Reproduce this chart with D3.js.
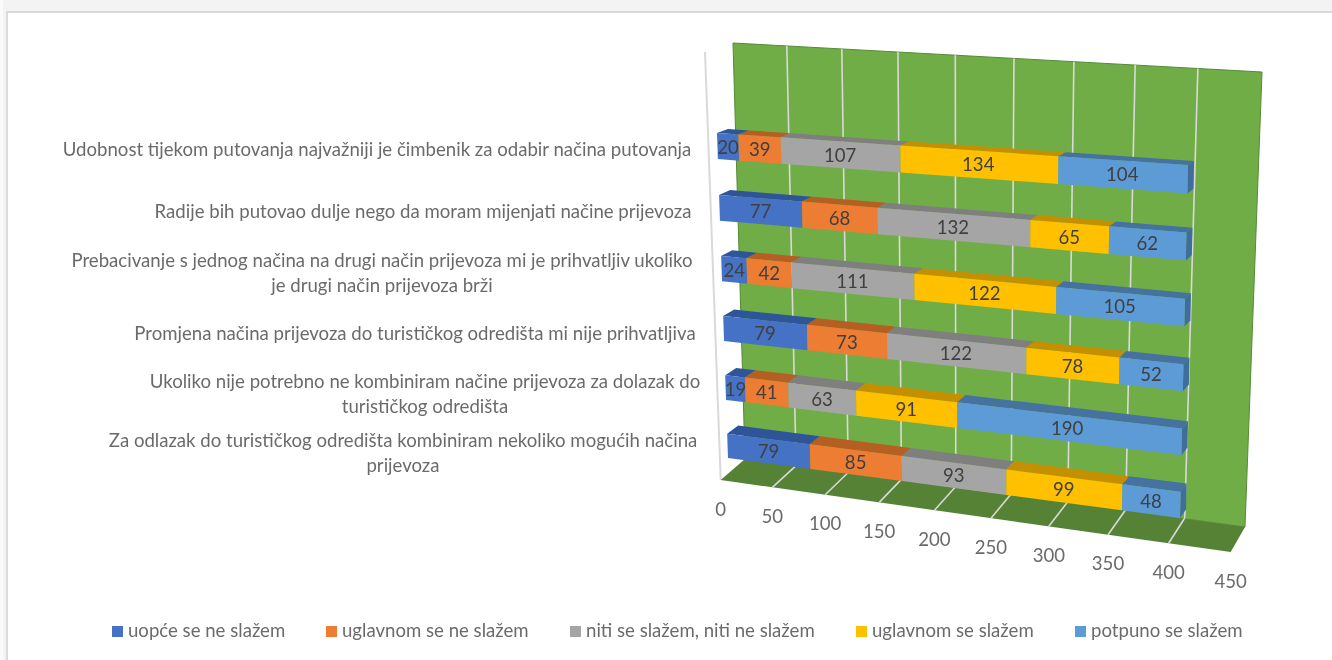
<!DOCTYPE html>
<html><head><meta charset="utf-8">
<script src="https://cdn.jsdelivr.net/npm/d3@7"></script>
<style>html,body{margin:0;padding:0;background:#fff}svg{display:block}text{font-family:Lato,"Noto Sans",sans-serif}</style>
</head><body><svg id="c" width="1332" height="660"><defs><filter id="soft" x="0" y="0" width="100%" height="100%"><feGaussianBlur stdDeviation="0.35"/></filter></defs></svg>
<script>
const categories = [
 "Udobnost tijekom putovanja najvažniji je čimbenik za odabir načina putovanja",
 "Radije bih putovao dulje nego da moram mijenjati načine prijevoza",
 "Prebacivanje s jednog načina na drugi način prijevoza mi je prihvatljiv ukoliko|je drugi način prijevoza brži",
 "Promjena načina prijevoza do turističkog odredišta mi nije prihvatljiva",
 "Ukoliko nije potrebno ne kombiniram načine prijevoza za dolazak do|turističkog odredišta",
 "Za odlazak do turističkog odredišta kombiniram nekoliko mogućih načina|prijevoza"
];
const seriesNames = ["uopće se ne slažem","uglavnom se ne slažem","niti se slažem, niti ne slažem","uglavnom se slažem","potpuno se slažem"];
const uopce    = [20,77,24,79,19,79];
const uglavnomNe = [39,68,42,73,41,85];
const niti     = [107,132,111,122,63,93];
const uglavnomDa = [134,65,122,78,91,99];
const potpuno  = [104,62,105,52,190,48];
const axisTicks = [0,50,100,150,200,250,300,350,400,450];

// styles and layout
const colors = ["#4472C4","#ED7D31","#A5A5A5","#FFC000","#5B9BD5"];
const topColors = ["#2F5597","#B55E23","#7F7F7F","#C49000","#44729E"];
const sideColor = "#3F6E9A";
const labelCenters = [377,423,382,415,425,403];
const labelYs = [156,218,267,340,388,447];
const legendX = [112,326,570,856,1075];
const fontSize = 18.6;
const textGrey = "#6b6b6b";

const root = d3.select("#c");
const svg = root.append("g").attr("filter","url(#soft)");

function quadMap(p0,p1,p2,p3){ // (0,0)=p0 (1,0)=p1 (1,1)=p2 (0,1)=p3
  const [x0,y0]=p0,[x1,y1]=p1,[x2,y2]=p2,[x3,y3]=p3;
  const dx1=x1-x2,dx2=x3-x2,sx=x0-x1+x2-x3,dy1=y1-y2,dy2=y3-y2,sy=y0-y1+y2-y3;
  const den=dx1*dy2-dx2*dy1;
  const g=(sx*dy2-dx2*sy)/den,h=(dx1*sy-sx*dy1)/den;
  const a=x1-x0+g*x1,b=x3-x0+h*x3,c=x0,d=y1-y0+g*y1,e=y3-y0+h*y3,f=y0;
  return (u,v)=>{const w=g*u+h*v+1;return [(a*u+b*v+c)/w,(d*u+e*v+f)/w];};
}
const wall  = quadMap([733,43],[1262,72],[1245,527],[745,459]);
const floor = quadMap([720.7,480],[1230.7,552],[1245,527],[745,459]);
const bars  = quadMap([717,133],[1188,165],[1180,518],[728,458]);

const axisU = d3.scaleLinear().domain([0,450]).range([0,1]);
const total = d3.sum([uopce,uglavnomNe,niti,uglavnomDa,potpuno].map(s=>s[0]));
const barU  = d3.scaleLinear().domain([0,total]).range([0,1]);
const rowV  = d3.scaleBand().domain(d3.range(categories.length)).range([0,1]).paddingInner(0.58).paddingOuter(0);
const line = d3.line();
const poly = pts => line(pts)+"Z";

// page frame
svg.append("rect").attr("width",1332).attr("height",660).attr("fill","#f3f3f3");
svg.append("rect").attr("width",3).attr("height",660).attr("fill","#fafafa");
svg.append("rect").attr("x",7).attr("y",12).attr("width",1330).attr("height",655).attr("fill","#fff").attr("stroke","#dadada").attr("stroke-width",2);

// side wall line
svg.append("line").attr("x1",705).attr("y1",52).attr("x2",720.7).attr("y2",480).attr("stroke","#d9d9d9").attr("stroke-width",2);
// walls
svg.append("path").attr("d",poly([wall(0,0),wall(1,0),wall(1,1),wall(0,1)])).attr("fill","#70AD47").attr("stroke","#568a36").attr("stroke-width",1);
svg.append("path").attr("d",poly([floor(0,0),floor(1,0),floor(1,1),floor(0,1)])).attr("fill","#548235");

// gridlines
const gridTicks = axisTicks.slice(1,-1);
svg.append("g").selectAll("line").data(gridTicks).join("line")
  .attr("x1",d=>wall(axisU(d),0)[0]).attr("y1",d=>wall(axisU(d),0)[1])
  .attr("x2",d=>wall(axisU(d),1)[0]).attr("y2",d=>wall(axisU(d),1)[1])
  .attr("stroke","#d9d9d9").attr("stroke-width",1.6);
svg.append("g").selectAll("line").data(gridTicks).join("line")
  .attr("x1",d=>floor(axisU(d),0)[0]).attr("y1",d=>floor(axisU(d),0)[1])
  .attr("x2",d=>floor(axisU(d),1)[0]).attr("y2",d=>floor(axisU(d),1)[1])
  .attr("stroke","#d9d9d9").attr("stroke-width",1.6);

// axis labels
svg.append("g").selectAll("text").data(axisTicks).join("text")
  .attr("x",d=>floor(axisU(d),0)[0]).attr("y",d=>floor(axisU(d),0)[1]+35.5)
  .attr("text-anchor","middle").attr("font-size",fontSize).attr("fill",textGrey).text(d=>d);

// stacked bars
const table = categories.map((c,i)=>({row:i,a:uopce[i],b:uglavnomNe[i],c:niti[i],d:uglavnomDa[i],e:potpuno[i]}));
const keys = ["a","b","c","d","e"];
const stacked = d3.stack().keys(keys)(table);
const depth = (u,v)=>[11-5*u, -4-4.5*v];
function pt(val,v,back){
  const u=barU(val),p=bars(u,v);
  if(!back) return p;
  const o=depth(u,v);return [p[0]+o[0],p[1]+o[1]];
}
const bw=rowV.bandwidth();
stacked.forEach((s,si)=>{
  const g=svg.append("g");
  g.selectAll("path.top").data(s).join("path").attr("class","top")
    .attr("fill",topColors[si])
    .attr("d",d=>{const v=rowV(d.data.row);return poly([pt(d[0],v),pt(d[1],v),pt(d[1],v,true),pt(d[0],v,true)]);});
  if(si===keys.length-1){
    g.selectAll("path.side").data(s).join("path").attr("class","side")
      .attr("fill",sideColor)
      .attr("d",d=>{const v=rowV(d.data.row);return poly([pt(d[1],v),pt(d[1],v,true),pt(d[1],v+bw,true),pt(d[1],v+bw)]);});
  }
  g.selectAll("path.front").data(s).join("path").attr("class","front")
    .attr("fill",colors[si])
    .attr("d",d=>{const v=rowV(d.data.row);return poly([pt(d[0],v),pt(d[1],v),pt(d[1],v+bw),pt(d[0],v+bw)]);});
  g.selectAll("text").data(s).join("text")
    .attr("x",d=>bars(barU((d[0]+d[1])/2),rowV(d.data.row)+bw/2)[0])
    .attr("y",d=>bars(barU((d[0]+d[1])/2),rowV(d.data.row)+bw/2)[1]+6.8)
    .attr("text-anchor","middle").attr("font-size",fontSize).attr("fill","#404040")
    .text(d=>d[1]-d[0]);
});

// category labels
const cat = svg.append("g");
categories.forEach((c,i)=>{
  c.split("|").forEach((t,j)=>{
    cat.append("text").attr("x",labelCenters[i]).attr("y",labelYs[i]+j*25)
      .attr("text-anchor","middle").attr("font-size",fontSize).attr("fill",textGrey).text(t);
  });
});

// legend
const leg = svg.append("g").selectAll("g").data(seriesNames).join("g")
  .attr("transform",(d,i)=>`translate(${legendX[i]},631)`);
leg.append("rect").attr("x",0).attr("y",-5).attr("width",11).attr("height",11).attr("fill",(d,i)=>colors[i]);
leg.append("text").attr("x",16).attr("y",6).attr("font-size",fontSize).attr("fill",textGrey).text(d=>d);
</script></body></html>
